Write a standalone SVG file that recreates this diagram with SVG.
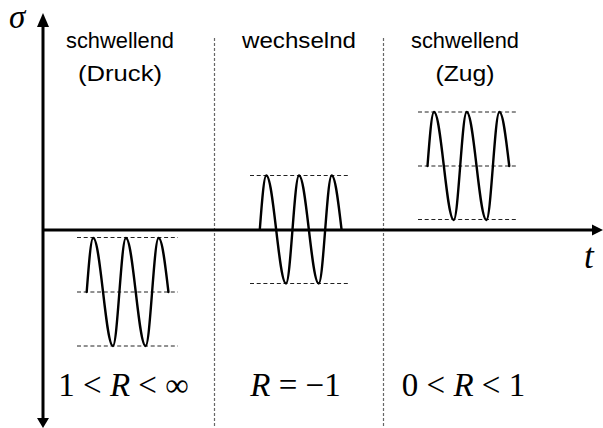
<svg xmlns="http://www.w3.org/2000/svg" width="603" height="428" viewBox="0 0 603 428">
  <style>
    .axis { stroke: #000; stroke-width: 3; fill: none; }
    .head { fill: #000; }
    .sep { stroke: #666; stroke-width: 1.2; stroke-dasharray: 3 2; fill: none; }
    .guide { stroke: #222; stroke-width: 1; stroke-dasharray: 4 2.7; fill: none; }
    .wave { stroke: #000; stroke-width: 2.4; fill: none; stroke-linejoin: round; stroke-linecap: round; }
    .lbl { font-family: "Liberation Sans", Arial, sans-serif; font-size: 22px; fill: #000; text-anchor: middle; }
    .math { font-family: "Liberation Serif", "Times New Roman", serif; font-size: 33px; fill: #000; text-anchor: middle; }
    .var { font-family: "Liberation Serif", "Times New Roman", serif; font-style: italic; fill: #000; }
  </style>
  <defs>
    <!-- three cycles of a slightly skewed sine, starting at its mean line -->
    <path id="cycles" d="M0,0
      c 2.12,-27.65 4.15,-54 6.5,-54
      c 3.57,0 6.64,26.35 9.85,54
      c 3.21,27.65 6.28,54 9.85,54
      c 2.35,0 4.38,-26.35 6.5,-54
      c 2.12,-27.65 4.15,-54 6.5,-54
      c 3.57,0 6.64,26.35 9.85,54
      c 3.21,27.65 6.28,54 9.85,54
      c 2.35,0 4.38,-26.35 6.5,-54
      c 2.12,-27.65 4.15,-54 6.5,-54
      c 3.57,0 6.64,26.35 9.85,54"/>
  </defs>

  <!-- region separators -->
  <g id="separators">
    <line class="sep" x1="214.5" y1="38" x2="214.5" y2="428"/>
    <line class="sep" x1="383.5" y1="38" x2="383.5" y2="428"/>
  </g>

  <!-- axes -->
  <g id="axes">
    <line class="axis" x1="43" y1="26" x2="43" y2="419"/>
    <polygon class="head" points="37,27 43,13 49,27"/>
    <polygon class="head" points="37,418 43,428 49,418"/>
    <line class="axis" x1="43" y1="230" x2="593" y2="230"/>
    <polygon class="head" points="592,224.5 603,230 592,235.5"/>
    <text class="var" x="9" y="28" font-size="33">σ</text>
    <text class="var" x="584" y="268" font-size="35">t</text>
  </g>

  <!-- compressive pulsating stress -->
  <g id="druck">
    <line class="guide" x1="77" y1="237.5" x2="178" y2="237.5"/>
    <line class="guide" x1="77" y1="292" x2="178" y2="292"/>
    <line class="guide" x1="77" y1="346" x2="178" y2="346"/>
    <use href="#cycles" class="wave" transform="translate(86.7,292)"/>
    <text class="lbl" x="120" y="48" textLength="108" lengthAdjust="spacingAndGlyphs">schwellend</text>
    <text class="lbl" x="120" y="81" textLength="84" lengthAdjust="spacingAndGlyphs">(Druck)</text>
    <text class="math" x="123.5" y="396">1 &lt; <tspan font-style="italic">R</tspan> &lt; ∞</text>
  </g>

  <!-- fully reversed stress -->
  <g id="wechsel">
    <line class="guide" x1="250" y1="175.5" x2="350" y2="175.5"/>
    <line class="guide" x1="250" y1="283.5" x2="350" y2="283.5"/>
    <use href="#cycles" class="wave" transform="translate(259.8,229.5)"/>
    <text class="lbl" x="299" y="48" textLength="114" lengthAdjust="spacingAndGlyphs">wechselnd</text>
    <text class="math" x="295.5" y="396"><tspan font-style="italic">R</tspan> = −1</text>
  </g>

  <!-- tensile pulsating stress -->
  <g id="zug">
    <line class="guide" x1="418" y1="112" x2="518" y2="112"/>
    <line class="guide" x1="418" y1="166" x2="518" y2="166"/>
    <line class="guide" x1="418" y1="219.5" x2="518" y2="219.5"/>
    <use href="#cycles" class="wave" transform="translate(427.5,166)"/>
    <text class="lbl" x="465" y="48" textLength="108" lengthAdjust="spacingAndGlyphs">schwellend</text>
    <text class="lbl" x="465" y="81" textLength="59" lengthAdjust="spacingAndGlyphs">(Zug)</text>
    <text class="math" x="463.5" y="396">0 &lt; <tspan font-style="italic">R</tspan> &lt; 1</text>
  </g>
</svg>
